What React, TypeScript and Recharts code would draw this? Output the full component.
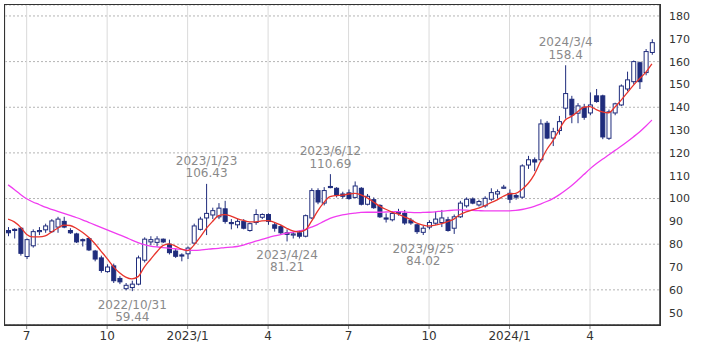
import { ComposedChart, Bar, Line, XAxis, YAxis, CartesianGrid } from 'recharts'

const NAVY = '#1f2c7c'

// weekly candles, first week 2022-06-13
const start = Date.UTC(2022, 5, 13)
const weeks = Array.from({ length: 105 }, (_, i) =>
  new Date(start + i * 7 * 86400000).toISOString().slice(0, 10)
)

const open = [
  86, 86.5, 87, 74.6, 79.3, 85.5, 86.3, 85.5, 87.5, 90, 86, 84.5, 82, 82.5, 77, 74, 68, 70.5, 65, 60.5,
  61, 62.5, 73, 81, 80.8, 82.2, 80, 77, 75.3, 75.8, 80.5, 86.5, 91.5, 92.8, 92, 95.5, 89.5, 88.5, 90, 86,
  89.5, 91.8, 93, 88.5, 87.7, 85, 84, 85, 83.5, 91.5, 103.5, 98, 105.3, 104.5, 102, 102.5, 100.5, 104.5, 97.5, 99.5,
  97, 91.5, 90.7, 94, 93.5, 90.5, 88.5, 85.2, 87.5, 89.2, 89.5, 90.7, 87, 92, 96.8, 99.8, 97.2, 96.8, 99.7, 102,
  104.5, 102.3, 101.3, 100.6, 114.7, 117, 117, 133, 126.5, 129.8, 139.6, 143.5, 137.4, 140, 137.5, 145, 145, 126.4, 137.5, 141,
  148, 151.2, 159.5, 155.2, 164,
]
const high = [
  87.5, 87, 87.5, 82.5, 86.5, 87.5, 89, 91, 92, 92, 87, 85, 82.5, 83, 77.5, 75, 71.2, 71.5, 66, 63,
  64, 75, 83, 83.5, 83.5, 82.5, 82, 78, 76, 79, 89, 92, 106.43, 96, 98, 99, 91, 91, 91, 89.5,
  95.3, 93.5, 93.5, 89.5, 88.5, 86.5, 85.5, 86, 93, 104.5, 104.5, 105, 110.69, 105, 103, 104, 107.5, 105, 102, 100.5,
  97.5, 93.5, 94.5, 95.5, 95, 91.5, 89, 88, 90.5, 94.3, 95, 92, 93, 99, 100.5, 100.5, 99.5, 101, 104.5, 104,
  106, 104, 102, 115, 118.7, 118, 134.7, 134, 131, 136.2, 158.4, 145, 141.8, 141.5, 146.5, 148, 145.5, 139, 142, 150,
  155.6, 160.5, 160, 165.5, 169.8,
]
const low = [
  83.5, 82.5, 75, 73.5, 78.5, 84, 85, 85, 85, 87, 84.5, 80.5, 79, 77, 72.5, 67.5, 67.5, 63, 62.5, 59.8,
  59.44, 62, 72, 79.5, 79, 80.5, 75.5, 74, 72.5, 73.5, 80, 86, 84, 91, 91, 89, 86.5, 87, 86.5, 85.5,
  88.5, 91, 88.5, 85.5, 84, 81.21, 82.5, 82.5, 83, 91, 97.5, 97, 104.5, 100.5, 100, 99.5, 100, 97, 97, 95.5,
  91.5, 89.5, 90, 92.5, 88.5, 88.5, 84.5, 84.02, 86.5, 88.5, 87.5, 85.5, 84.5, 91.5, 96, 97.5, 96.5, 96, 99, 100,
  104.2, 98, 99.5, 100, 113, 112, 116, 126, 123, 128, 135, 133, 133, 134.5, 136.5, 142, 126, 125.7, 136.5, 140.5,
  147, 150, 148, 154, 163,
]
const close = [
  85, 86, 76, 82, 85.5, 86, 88, 90.2, 91, 87.5, 85, 81, 81.5, 77.5, 73.5, 68.5, 70, 64, 63.5, 62,
  62.5, 74, 82.2, 82, 82.3, 81, 76.3, 74.7, 74.8, 78.3, 88, 91, 93.5, 94.7, 95.8, 90, 89, 90, 87, 89,
  93, 93, 90, 87, 85, 84.3, 84.5, 83.5, 92.5, 103.5, 98.5, 103.5, 104.8, 101.5, 101, 100, 105.5, 97.5, 101, 96,
  92, 91, 93.5, 93.5, 89.3, 89.3, 85.5, 87, 89.5, 91, 91.5, 86, 92, 98, 99.7, 98, 98.7, 100.1, 102.6, 103,
  105, 99.7, 100.6, 114.3, 117, 116, 132.7, 126.5, 129.3, 133.7, 146, 136.6, 140.6, 135.6, 141, 142.5, 127, 138, 141.5, 149.3,
  152, 160, 151.2, 164.4, 168.3,
]
const maShort = [
  91, 89.8, 87.5, 84.3, 83.2, 83.2, 83.6, 85.3, 87, 88.4, 88.2, 87, 85.2, 83, 80.3, 77, 73.7, 70.2, 67.5, 65.6,
  64.8, 65.8, 70, 73.3, 76.6, 79.4, 80.1, 79.2, 77.8, 77.2, 79.5, 83, 86.8, 89.9, 92.5, 93, 92.3, 91.2, 90.4, 89.8,
  89.8, 90.2, 90.3, 89.6, 88.5, 87, 85.8, 85.4, 86.2, 90, 94.5, 98.2, 100.8, 101.3, 101.5, 102, 102.3, 101.6, 100.3, 98.5,
  96.7, 95.3, 94.1, 93.2, 92, 90.8, 89.3, 88.4, 88, 88.4, 89, 89.9, 91, 93, 94.2, 95, 95.8, 96.9, 98.2, 99.4,
  101, 102.1, 102.3, 104, 106.6, 110.5, 116.2, 121.4, 125.3, 130, 134.4, 136, 138, 140, 140.3, 139, 138, 137.6, 140, 143,
  146.3, 149.6, 152.5, 155.3, 159,
]
const maLong = [
  106, 104, 101.8, 99.9, 98.5, 97.4, 96.2, 95.3, 94.4, 93.5, 92.6, 91.7, 90.7, 89.6, 88.5, 87.4, 86.3, 85.2, 84.1, 83,
  81.8, 80.7, 79.8, 79.2, 78.8, 78.5, 78.3, 78, 77.7, 77.4, 77.3, 77.4, 77.7, 78, 78.2, 78.5, 78.7, 79, 79.6, 80.5,
  81.3, 82.1, 82.9, 83.6, 84.2, 84.8, 85.3, 85.8, 86.4, 87.5, 88.6, 90, 91.3, 92.2, 92.8, 93.3, 93.6, 93.9, 94, 94,
  94, 94.1, 94.2, 94.3, 94.1, 93.9, 93.8, 93.9, 94, 94.2, 94.5, 94.7, 94.9, 95, 94.9, 94.8, 94.7, 94.6, 94.6, 94.6,
  94.6, 94.6, 94.8, 95.2, 95.8, 96.6, 97.6, 98.7, 100, 101.6, 103.5, 105.6, 108, 110.5, 113, 115.2, 117.2, 119.1, 121, 122.9,
  124.9, 127, 129.2, 131.7, 134.4,
]

const tickDates = ['2022-07-04', '2022-10-03', '2023-01-02', '2023-04-03', '2023-07-03', '2023-10-02', '2024-01-01', '2024-04-01']
const tickLabels = ['7', '10', '2023/1', '4', '7', '10', '2024/1', '4']
const yTicks = [50, 60, 70, 80, 90, 100, 110, 120, 130, 140, 150, 160, 170, 180]

// high / low callouts
const highMarks = ['2023-01-23', '2023-06-12', '2024-03-04']
const lowMarks = ['2022-10-31', '2023-04-24', '2023-09-25']

const data = weeks.map((date, i) => ({
  date,
  open: open[i],
  high: high[i],
  low: low[i],
  close: close[i],
  maShort: maShort[i],
  maLong: maLong[i],
}))

const fmtDate = (d: string) => {
  const [y, m, dd] = d.split('-')
  return `${y}/${Number(m)}/${Number(dd)}`
}

function Candle(props: any) {
  const { x, y, width, height, payload } = props
  if (!payload || height == null || isNaN(y)) return null
  const { open: o, close: c, high: h, low: l, date } = payload
  const k = height / (h - l)
  const py = (v: number) => y + (h - v) * k
  const cx = x + width / 2
  const up = c >= o
  const top = py(Math.max(o, c))
  const bh = Math.max(py(Math.min(o, c)) - top, 1)
  const txt = { fill: '#8a8a8a', fontSize: 12, textAnchor: 'middle' as const, dominantBaseline: 'central' as const }
  return (
    <g>
      <line x1={cx} x2={cx} y1={y} y2={y + height} stroke={NAVY} strokeWidth={1} />
      <rect x={x + 0.5} y={top} width={width - 1} height={bh} fill={up ? '#fff' : NAVY} stroke={NAVY} strokeWidth={1} />
      {highMarks.includes(date) && (
        <g>
          <text x={cx} y={y - 23} {...txt}>{fmtDate(date)}</text>
          <text x={cx} y={y - 10.5} {...txt}>{h}</text>
        </g>
      )}
      {lowMarks.includes(date) && (
        <g>
          <text x={cx} y={y + height + 13.5} {...txt}>{fmtDate(date)}</text>
          <text x={cx} y={y + height + 26} {...txt}>{l}</text>
        </g>
      )}
    </g>
  )
}

export default function App() {
  return (
    <div style={{ position: 'absolute', left: 0, top: 0, width: 709, height: 354, fontFamily: 'DejaVu Sans', background: '#fff' }}>
      <ComposedChart width={709} height={354} data={data} margin={{ top: 5, right: 0, bottom: 0, left: 5 }}>
        <CartesianGrid vertical={false} stroke="#b4b4b4" strokeDasharray="2 2" />
        <CartesianGrid horizontal={false} stroke="#dadada" />
        <XAxis
          dataKey="date"
          ticks={tickDates}
          interval={0}
          tickFormatter={(d) => tickLabels[tickDates.indexOf(d)] ?? ''}
          tick={{ fontSize: 12, fill: '#333' }}
          axisLine={{ stroke: '#333', strokeWidth: 1.5 }}
          tickLine={{ stroke: '#888' }}
          tickSize={4}
          height={29}
          padding={{ left: 0, right: 5 }}
        />
        <YAxis
          orientation="right"
          type="number"
          domain={[44.6, 184.8]}
          ticks={yTicks}
          allowDataOverflow
          width={49}
          tick={{ fontSize: 11, fill: '#333', textAnchor: 'start' }}
          axisLine={{ stroke: '#333', strokeWidth: 1.5 }}
          tickLine={false}
          tickMargin={3}
        />
        <Bar dataKey={(d: any) => [d.low, d.high]} barSize={5} shape={Candle} isAnimationActive={false} />
        <Line dataKey="maLong" type="monotone" stroke="#f03cf0" strokeWidth={1.3} dot={false} isAnimationActive={false} />
        <Line dataKey="maShort" type="monotone" stroke="#e8342c" strokeWidth={1.3} dot={false} isAnimationActive={false} />
      </ComposedChart>
      <div style={{ position: 'absolute', left: 4, top: 4, width: 655, height: 320, border: '1.5px solid #333', pointerEvents: 'none' }} />
    </div>
  )
}
